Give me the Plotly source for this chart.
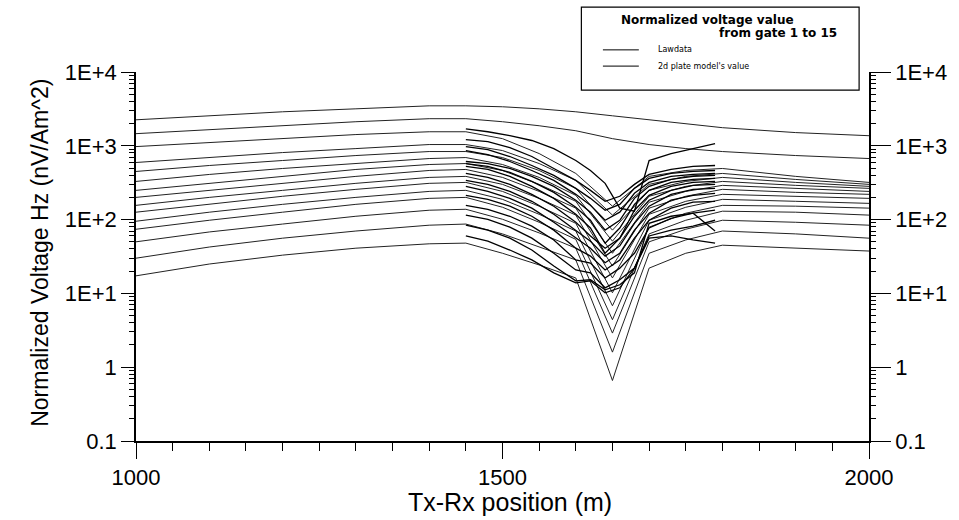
import plotly.graph_objects as go

# ---------------- data ----------------
model_x = [1000, 1100, 1200, 1300, 1400, 1450, 1500, 1550, 1600, 1650, 1700, 1750, 1800, 1900, 2000]
model_g01 = [2250, 2550, 2890, 3170, 3480, 3480, 3380, 3170, 2890, 2550, 2250, 1990, 1760, 1510, 1370]
model_g02 = [1460, 1650, 1870, 2120, 2330, 2330, 2120, 1870, 1600, 1250, 1040, 917, 836, 738, 672]
model_g03 = [976, 1100, 1250, 1420, 1550, 1550, 1250, 785, 422, 152, 385, 463, 493, 385, 319]
model_g04 = [594, 693, 810, 917, 1040, 1040, 862, 575, 340, 115, 300, 385, 422, 350, 300]
model_g05 = [449, 541, 632, 738, 836, 836, 693, 463, 265, 72, 249, 329, 373, 319, 282]
model_g06 = [329, 409, 493, 575, 672, 693, 558, 373, 213, 51, 207, 282, 329, 291, 265]
model_g07 = [249, 310, 385, 478, 558, 575, 463, 300, 177, 35, 172, 241, 291, 265, 241]
model_g08 = [200, 249, 310, 385, 463, 478, 373, 241, 143, 23.5, 143, 207, 257, 234, 220]
model_g09 = [156, 200, 249, 310, 373, 385, 300, 194, 115, 16.2, 118, 177, 220, 207, 194]
model_g10 = [126, 161, 207, 257, 310, 319, 241, 152, 89, 10.2, 98, 147, 188, 177, 166]
model_g11 = [95, 126, 161, 200, 241, 249, 188, 118, 70, 6.8, 79, 122, 156, 152, 143]
model_g12 = [74, 98, 126, 161, 194, 200, 147, 92, 54, 4.4, 64, 98, 130, 126, 115]
model_g13 = [50, 68, 87, 111, 134, 138, 101, 66, 41, 2.9, 50, 74, 98, 92, 84]
model_g14 = [30, 42.5, 56, 70, 84, 87, 64, 42.5, 28.4, 1.6, 35, 53, 70, 64, 56]
model_g15 = [17.3, 25, 33, 41, 47, 48, 35, 24.3, 16.2, 0.66, 22, 35, 45, 41, 37.5]

data_x = [1450, 1480, 1510, 1540, 1570, 1600, 1620, 1640, 1660, 1680, 1700, 1730, 1760, 1790]
data_g01 = [1700, 1550, 1370, 1180, 917, 632, 463, 310, 143, 130, 632, 785, 917, 1070]
data_g02 = [1210, 1140, 946, 716, 493, 340, 249, 177, 207, 300, 409, 478, 525, 541]
data_g03 = [976, 889, 716, 541, 397, 265, 194, 134, 161, 265, 361, 422, 449, 463]
data_g04 = [862, 761, 613, 463, 340, 220, 156, 98, 126, 227, 319, 385, 409, 422]
data_g05 = [613, 575, 493, 385, 282, 183, 126, 72, 98, 194, 282, 350, 385, 397]
data_g06 = [575, 525, 435, 329, 234, 147, 98, 48, 77, 161, 249, 319, 350, 361]
data_g07 = [525, 478, 385, 282, 194, 118, 77, 35, 56, 134, 213, 282, 319, 329]
data_g08 = [422, 373, 300, 220, 152, 92, 60, 41, 56, 111, 183, 249, 291, 300]
data_g09 = [340, 300, 241, 177, 118, 72, 51, 32, 44, 89, 152, 220, 257, 265]
data_g10 = [282, 241, 194, 143, 92, 56, 41, 26, 35, 72, 122, 183, 213, 227]
data_g11 = [213, 188, 152, 111, 72, 41, 32, 20.8, 28.4, 56, 98, 143, 172, 177]
data_g12 = [156, 138, 111, 81.5, 53, 28.4, 25.8, 16.2, 22, 35, 77, 104, 122, 134]
data_g13 = [115, 101, 79, 56, 35, 20.8, 19, 11.9, 15.3, 22, 60, 72, 81.5, 98]
data_g14 = [84, 72, 56, 38.7, 23.5, 14.8, 15.3, 11.2, 13.1, 19, 89, 111, 122, 70]
data_g15 = [60, 51, 38.7, 28.4, 19, 13.9, 14.8, 10.2, 11.9, 22, 56, 60, 53, 48]

y_tickvals = [0.1, 1, 10, 100, 1000, 10000]
y_ticktext = ["0.1", "1", "1E+1", "1E+2", "1E+3", "1E+4"]
x_tickvals = [1000, 1500, 2000]
x_ticktext = ["1000", "1500", "2000"]

x_title = "Tx-Rx position (m)"
y_title = "Normalized Voltage Hz (nV/Am^2)"
legend_title1 = "Normalized voltage value"
legend_title2 = "from gate 1 to 15"
legend_label_data = "Lawdata"
legend_label_model = "2d plate model's value"

model_series = [model_g01, model_g02, model_g03, model_g04, model_g05, model_g06, model_g07,
                model_g08, model_g09, model_g10, model_g11, model_g12, model_g13, model_g14, model_g15]
data_series = [data_g01, data_g02, data_g03, data_g04, data_g05, data_g06, data_g07,
               data_g08, data_g09, data_g10, data_g11, data_g12, data_g13, data_g14, data_g15]

# ---------------- figure ----------------
FONT = "Liberation Sans, Arial, sans-serif"
fig = go.Figure()

for i, ys in enumerate(model_series):
    fig.add_trace(go.Scatter(x=model_x, y=ys, mode="lines",
                             line=dict(color="#222222", width=1),
                             showlegend=False, hoverinfo="skip", name=f"model gate {i+1}"))
for i, ys in enumerate(data_series):
    fig.add_trace(go.Scatter(x=data_x, y=ys, mode="lines",
                             line=dict(color="#000000", width=1.3),
                             showlegend=False, hoverinfo="skip", name=f"data gate {i+1}"))

# invisible anchor for the right axis
fig.add_trace(go.Scatter(x=[1000], y=[1], yaxis="y2", mode="lines",
                         line=dict(width=0), showlegend=False, hoverinfo="skip"))

yax_common = dict(
    type="log", range=[-1, 4], tickmode="array", tickvals=y_tickvals, ticktext=y_ticktext,
    showgrid=False, zeroline=False, showline=True, linecolor="black", linewidth=1.5,
    ticks="outside", tickcolor="black", tickwidth=1.2,
    tickfont=dict(family=FONT, size=22, color="black"),
    minor=dict(ticks="outside", ticklen=5, tickcolor="black", tickwidth=1, dtick="D1", showgrid=False),
)

fig.update_layout(
    width=959, height=520,
    margin=dict(l=136, r=84, t=72, b=79),
    paper_bgcolor="white", plot_bgcolor="white",
    showlegend=False,
    xaxis=dict(range=[1000, 2000], tickmode="array", tickvals=x_tickvals, ticktext=x_ticktext,
               showgrid=False, zeroline=False, showline=True, linecolor="black", linewidth=1.5,
               ticks="outside", ticklen=16, tickwidth=1.2, tickcolor="black",
               tickfont=dict(family=FONT, size=22, color="black"),
               minor=dict(ticks="outside", ticklen=8, tickcolor="black", tickwidth=1, dtick=50, showgrid=False)),
    yaxis=dict(**yax_common, ticklen=13, side="left"),
    yaxis2=dict(**yax_common, ticklen=20, side="right", overlaying="y", anchor="x"),
)

# axis titles
fig.add_annotation(text=x_title, xref="paper", yref="paper", x=0.51, y=-0.166,
                   xanchor="center", yanchor="middle", showarrow=False,
                   font=dict(family=FONT, size=25, color="black"))
fig.add_annotation(text=y_title, xref="paper", yref="paper", x=-0.131, y=0.51,
                   xanchor="center", yanchor="middle", showarrow=False, textangle=-90,
                   font=dict(family=FONT, size=23, color="black"))

# legend box (drawn manually)
fig.add_shape(type="rect", xref="paper", yref="paper", x0=0.6076, x1=0.9865, y0=0.951, y1=1.176,
              line=dict(color="black", width=1.2), fillcolor="rgba(255,255,255,0)")
fig.add_annotation(text="<b>" + legend_title1 + "</b>", xref="paper", yref="paper", x=0.659, y=1.141,
                   xanchor="left", yanchor="middle", showarrow=False,
                   font=dict(family="DejaVu Sans, sans-serif", size=12, color="black"))
fig.add_annotation(text="<b>" + legend_title2 + "</b>", xref="paper", yref="paper", x=0.9594, y=1.106,
                   xanchor="right", yanchor="middle", showarrow=False,
                   font=dict(family="DejaVu Sans, sans-serif", size=12, color="black"))
fig.add_shape(type="line", xref="paper", yref="paper", x0=0.637, x1=0.686, y0=1.060, y1=1.060,
              line=dict(color="black", width=1))
fig.add_annotation(text=legend_label_data, xref="paper", yref="paper", x=0.709, y=1.060,
                   xanchor="left", yanchor="middle", showarrow=False,
                   font=dict(family="DejaVu Sans, sans-serif", size=8, color="black"))
fig.add_shape(type="line", xref="paper", yref="paper", x0=0.637, x1=0.686, y0=1.016, y1=1.016,
              line=dict(color="black", width=1))
fig.add_annotation(text=legend_label_model, xref="paper", yref="paper", x=0.709, y=1.016,
                   xanchor="left", yanchor="middle", showarrow=False,
                   font=dict(family="DejaVu Sans, sans-serif", size=8, color="black"))

fig.write_html("out.html", config={"displayModeBar": False},
               post_script="document.body.style.margin='0';document.body.style.overflow='hidden';")
